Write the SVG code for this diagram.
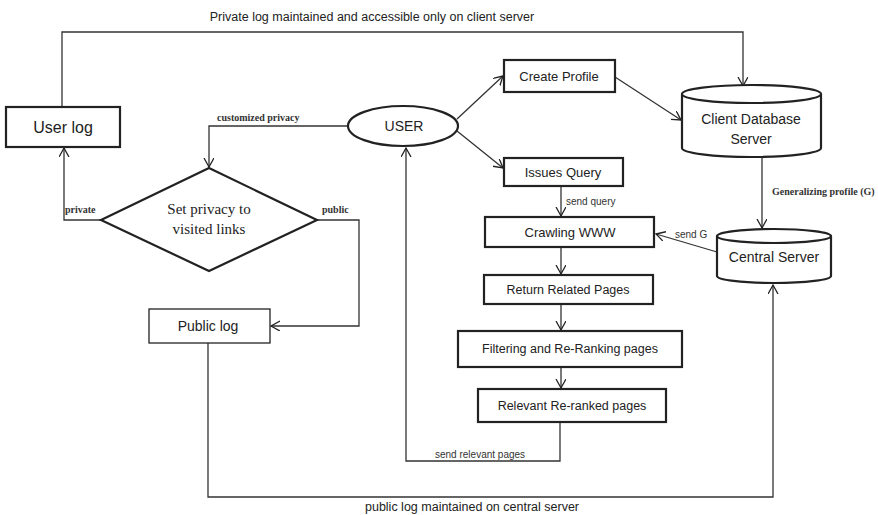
<svg xmlns="http://www.w3.org/2000/svg" width="878" height="515" viewBox="0 0 878 515">
<defs>
<marker id="arr" markerUnits="userSpaceOnUse" markerWidth="12" markerHeight="12" refX="9" refY="5" orient="auto">
<path d="M0,0 L9,5 L0,10" fill="none" stroke="#222" stroke-width="1.3"/>
</marker>
<style>
.box{fill:#fff;stroke:#222;stroke-width:2.2}
.thin{fill:#fff;stroke:#222;stroke-width:1.3}
.ln{fill:none;stroke:#333;stroke-width:1.3}
.s{font-family:"Liberation Sans",Arial,sans-serif;fill:#222;text-anchor:middle}
.t{font-family:"Liberation Serif","Times New Roman",serif;fill:#222}
.lb{font-family:"Liberation Serif","Times New Roman",serif;font-size:10px;font-weight:bold;fill:#333}
.ls{font-family:"Liberation Sans",Arial,sans-serif;font-size:10px;fill:#333}
</style>
</defs>
<rect width="878" height="515" fill="#fff"/>
<g id="connectors">
<polyline class="ln" points="62,107 62,32 743,32 743,86" marker-end="url(#arr)"/>
<polyline class="ln" points="348,126 209,126 209,167" marker-end="url(#arr)"/>
<polyline class="ln" points="101,220 64,220 64,148" marker-end="url(#arr)"/>
<polyline class="ln" points="317,220 359,220 359,326 271,326" marker-end="url(#arr)"/>
<polyline class="ln" points="208,343 208,497 773,497 773,285" marker-end="url(#arr)"/>
<line class="ln" x1="457" y1="119" x2="503" y2="76" marker-end="url(#arr)"/>
<line class="ln" x1="457" y1="131" x2="503" y2="168" marker-end="url(#arr)"/>
<line class="ln" x1="615" y1="77" x2="681" y2="120" marker-end="url(#arr)"/>
<line class="ln" x1="762" y1="157" x2="762" y2="228" marker-end="url(#arr)"/>
<line class="ln" x1="717" y1="252" x2="656" y2="234" marker-end="url(#arr)"/>
<line class="ln" x1="561" y1="186" x2="561" y2="216" marker-end="url(#arr)"/>
<line class="ln" x1="561" y1="247" x2="561" y2="274" marker-end="url(#arr)"/>
<line class="ln" x1="561" y1="304" x2="561" y2="330" marker-end="url(#arr)"/>
<line class="ln" x1="561" y1="367" x2="561" y2="388" marker-end="url(#arr)"/>
<polyline class="ln" points="560,422 560,461 406,461 406,148" marker-end="url(#arr)"/>
<text class="s" x="372" y="21" font-size="12.5">Private log maintained and accessible only on client server</text>
<text class="lb" x="217" y="121">customized privacy</text>
<text class="lb" x="65" y="213">private</text>
<text class="lb" x="322" y="213">public</text>
<text class="lb" x="772" y="195">Generalizing profile (G)</text>
<text class="ls" x="566" y="205">send query</text>
<text class="ls" x="675" y="238">send G</text>
<text class="ls" x="435" y="458">send relevant pages</text>
<text class="s" x="472" y="511" font-size="12.5">public log maintained on central server</text>
</g>
<g id="userlog">
<rect class="box" x="6" y="107" width="114" height="40"/>
<text class="s" x="63" y="133" font-size="16">User log</text>
</g>
<g id="user">
<ellipse class="box" cx="403" cy="126" rx="55" ry="20"/>
<text class="s" x="404" y="131" font-size="14">USER</text>
</g>
<g id="privacy">
<polygon class="box" points="209,168 317,220 209,271 101,220"/>
<text class="t" x="209" y="214" font-size="15" text-anchor="middle">Set privacy to</text>
<text class="t" x="209" y="234" font-size="15" text-anchor="middle">visited links</text>
</g>
<g id="publiclog">
<rect class="thin" x="149" y="309" width="121" height="34"/>
<text class="s" x="208" y="331" font-size="14">Public log</text>
</g>
<g id="createprofile">
<rect class="box" x="504" y="60" width="111" height="32"/>
<text class="s" x="559" y="81" font-size="13">Create Profile</text>
</g>
<g id="issuesquery">
<rect class="box" x="504" y="158" width="119" height="28"/>
<text class="s" x="563" y="177" font-size="13">Issues Query</text>
</g>
<g id="clientdb">
<path class="box" d="M682,94 L682,148 A69.5,9 0 0 0 821,148 L821,94"/>
<ellipse class="box" cx="751.5" cy="94" rx="69.5" ry="9"/>
<text class="s" x="751" y="124" font-size="14">Client Database</text>
<text class="s" x="751" y="144" font-size="14">Server</text>
</g>
<g id="centralserver">
<path class="box" d="M717,236 L717,276 A57,7 0 0 0 831,276 L831,236"/>
<ellipse class="box" cx="774" cy="236" rx="57" ry="7"/>
<text class="s" x="774" y="262" font-size="14">Central Server</text>
</g>
<g id="crawling">
<rect class="box" x="485" y="217" width="169" height="30"/>
<text class="s" x="570" y="237" font-size="13">Crawling WWW</text>
</g>
<g id="returnpages">
<rect class="box" x="484" y="275" width="169" height="29"/>
<text class="s" x="568" y="294" font-size="12.5">Return Related Pages</text>
</g>
<g id="filtering">
<rect class="box" x="458" y="331" width="224" height="36"/>
<text class="s" x="570" y="353" font-size="12.5">Filtering and Re-Ranking pages</text>
</g>
<g id="relevant">
<rect class="box" x="478" y="389" width="188" height="33"/>
<text class="s" x="572" y="410" font-size="12.5">Relevant Re-ranked pages</text>
</g>
</svg>
